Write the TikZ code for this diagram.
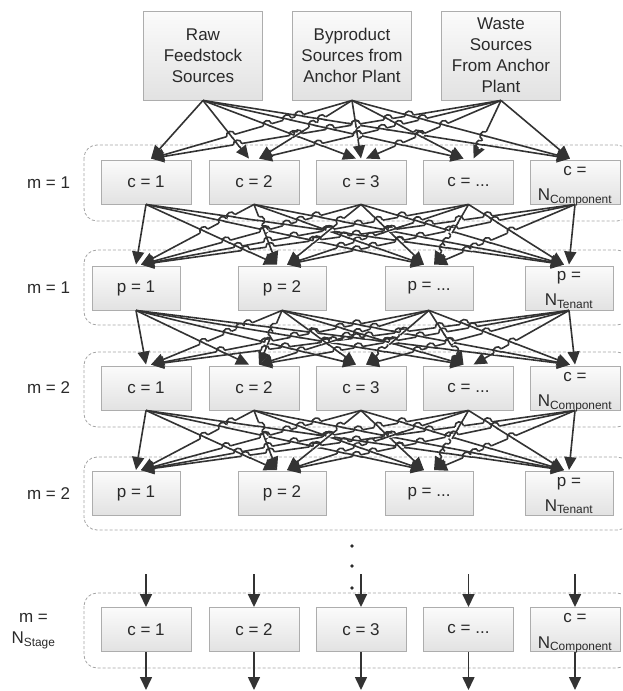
\documentclass[tikz,border=0pt]{standalone}
\usepackage{fontspec}
\setmainfont{Liberation Sans}
\usetikzlibrary{arrows.meta}

\definecolor{ink}{HTML}{333333}
\definecolor{txt}{HTML}{2A2A2A}
\definecolor{frame}{HTML}{ADADAD}
\definecolor{dashc}{HTML}{A3A3A3}
\definecolor{boxtop}{HTML}{FBFBFB}
\definecolor{boxbot}{HTML}{E2E2E2}

\newcommand\hoprad{4.3}
\newcommand\moretext{...}

\tikzset{
  cell/.style={draw=frame, line width=0.9pt, top color=boxtop, bottom color=boxbot,
    minimum height=44pt, inner sep=0pt, text=txt, align=center,
    font=\fontsize{17}{21}\selectfont},
  cellc/.style={cell, minimum width=90pt},
  cellp/.style={cell, minimum width=88pt},
  cellsrc/.style={cell, minimum width=119pt, minimum height=89pt},
  stagebox/.style={draw=dashc, line width=0.8pt, dash pattern=on 3pt off 2pt, rounded corners=13pt},
  lnk/.style={draw=ink, line width=1.6pt},
  arr/.style={lnk, -{Triangle[length=13pt,width=12pt]}},
  lbl/.style={text=txt, inner sep=0pt, font=\fontsize{17}{21}\selectfont},
}

% a row of component boxes: #1 name prefix, #2 centre height
\newcommand\comprow[2]{%
  \foreach \k/\x/\cv in {1/146/1, 2/254/2, 3/361/3, 4/468.5/\moretext}
    \node[cellc] (#1\k) at (\x,#2) {c = \cv};
  \node[cellc] (#15) at (575,#2) {};
  \node[lbl, anchor=base] (#1top) at ([yshift=-15.5pt]#15.north) {c =};
  \node[lbl, anchor=base] (#1sub) at ([yshift=-41pt]#15.north) {N\textsubscript{Component}};
}

% a row of tenant boxes: #1 name prefix, #2 centre height
\newcommand\tenantrow[2]{%
  \foreach \k/\x/\cv in {1/136/1, 2/282/2, 3/429/\moretext}
    \node[cellp] (#1\k) at (\x,#2) {p = \cv};
  \node[cellp] (#14) at (569,#2) {};
  \node[lbl, anchor=base] (#1top) at ([yshift=-15pt]#14.north) {p =};
  \node[lbl, anchor=base] (#1sub) at ([yshift=-40pt]#14.north) {N\textsubscript{Tenant}};
}

% line jump of line (#1 -> #2) over line (#3 -> #4) at fraction #5, rows #6 -> #7
\newcommand\hop[7]{%
  \pgfmathsetmacro\px{#1+(#2-#1)*#5}%
  \pgfmathsetmacro\py{#6+(#7-#6)*#5}%
  \pgfmathsetmacro\li{veclen(#2-#1,#7-#6)}%
  \pgfmathsetmacro\ux{(#2-#1)/\li}%
  \pgfmathsetmacro\uy{(#7-#6)/\li}%
  \pgfmathsetmacro\lj{veclen(#4-#3,#7-#6)}%
  \pgfmathsetmacro\vx{(#4-#3)/\lj}%
  \pgfmathsetmacro\vy{(#7-#6)/\lj}%
  \pgfmathsetmacro\sn{abs((\ux)*(\vy)-(\uy)*(\vx))}%
  \pgfmathtruncatemacro\steep{\sn>0.15}%
  \ifnum\steep=1\relax
    \pgfmathsetmacro\sg{(\ux<0)?-1:1}%
    \pgfmathsetmacro\nx{(\sg)*(\uy)}%
    \pgfmathsetmacro\ny{-1*(\sg)*(\ux)}%
    \pgfmathsetmacro\Ax{\px-\hoprad*(\ux)}%
    \pgfmathsetmacro\Ay{\py-\hoprad*(\uy)}%
    \pgfmathsetmacro\Bx{\px+\hoprad*(\ux)}%
    \pgfmathsetmacro\By{\py+\hoprad*(\uy)}%
    \pgfmathsetmacro\Cax{\Ax+1.33*\hoprad*(\nx)}%
    \pgfmathsetmacro\Cay{\Ay+1.33*\hoprad*(\ny)}%
    \pgfmathsetmacro\Cbx{\Bx+1.33*\hoprad*(\nx)}%
    \pgfmathsetmacro\Cby{\By+1.33*\hoprad*(\ny)}%
    \pgfmathsetmacro\rl{min(12,2.2/\sn+1)}%
    \pgfmathsetmacro\Rax{\px-\rl*(\vx)}%
    \pgfmathsetmacro\Ray{\py-\rl*(\vy)}%
    \pgfmathsetmacro\Rbx{\px+\rl*(\vx)}%
    \pgfmathsetmacro\Rby{\py+\rl*(\vy)}%
    \draw[white, line width=3.8pt] (\Ax,\Ay) -- (\Bx,\By);
    \draw[lnk] (\Rax,\Ray) -- (\Rbx,\Rby);
    \draw[lnk] (\Ax,\Ay) .. controls (\Cax,\Cay) and (\Cbx,\Cby) .. (\Bx,\By);
  \fi
}

% jumps for every crossing in \bandlist, rows #1 -> #2
\newcommand\hopband[2]{%
  \foreach \ai/\bi [count=\ii] in \bandlist {%
    \foreach \aj/\bj [count=\jj] in \bandlist {%
      \ifnum\jj<\ii\relax
        \pgfmathsetmacro\den{(\bi-\ai)-(\bj-\aj)}%
        \pgfmathtruncatemacro\okden{abs(\den)>0.5}%
        \ifnum\okden=1\relax
          \pgfmathsetmacro\hopt{(\aj-\ai)/(\den)}%
          \pgfmathtruncatemacro\ok{and(\hopt>0.1,\hopt<0.78)}%
          \ifnum\ok=1\relax
            \hop{\ai}{\bi}{\aj}{\bj}{\hopt}{#1}{#2}%
          \fi
        \fi
      \fi
    }%
  }%
}

% every box of one row feeds every box of the next row
% #1 source prefix, #2 index/x list, #3 target prefix, #4 index/x list,
% #5 source bottom, #6 target top
\newcommand\band[6]{%
  \gdef\bandlist{}%
  \foreach \s/\sx in {#2}{%
    \foreach \tv/\tx in {#4}{%
      \pgfmathsetmacro\off{((\sx-\tx)>20)*5-((\tx-\sx)>20)*5}%
      \draw[arr] (#1\s.south) -- ([xshift=\off pt,yshift=1pt]#3\tv.north);
      \pgfmathsetmacro\bx{\tx+\off}%
      \ifx\bandlist\empty\xdef\bandlist{\sx/\bx}\else\xdef\bandlist{\bandlist,\sx/\bx}\fi
    }%
  }%
  \pgfmathsetmacro\yend{#6-1}%
  \hopband{#5}{\yend}%
}

\begin{document}
\begin{tikzpicture}[x=1pt,y=-1pt]
\useasboundingbox (0,0) rectangle (622,691);
\clip (0,0) rectangle (622,691);

% stage frames
\foreach \yt/\yb in {145/221, 250/325, 352/427, 457/530, 593/668}
  \draw[stagebox] (84,\yt) rectangle (630,\yb);

% feedstock sources
\node[cellsrc] (src1) at (203,55.5) {Raw\\Feedstock\\Sources};
\node[cellsrc] (src2) at (352,55.5) {Byproduct\\Sources from\\Anchor Plant};
\node[cellsrc] (src3) at (501,55.5) {Waste\\Sources\\From Anchor\\Plant};

% stage rows
\comprow{ca}{182}
\tenantrow{pa}{288}
\comprow{cb}{388}
\tenantrow{pb}{493.5}
\comprow{cc}{629.5}

% stage labels
\node[lbl] (lm1) at (48.5,183) {m = 1};
\node[lbl] (lm2) at (48.5,288) {m = 1};
\node[lbl] (lm3) at (48.5,388) {m = 2};
\node[lbl] (lm4) at (48.5,493.5) {m = 2};
\node[lbl, align=center] (lm5) at (33.5,631) {m =\\N\textsubscript{Stage}};

% flows between rows
\band{src}{1/203, 2/352, 3/501}{ca}{1/146, 2/254, 3/361, 4/468.5, 5/575}{100}{160}
\band{ca}{1/146, 2/254, 3/361, 4/468.5, 5/575}{pa}{1/136, 2/282, 3/429, 4/569}{204}{266}
\band{pa}{1/136, 2/282, 3/429, 4/569}{cb}{1/146, 2/254, 3/361, 4/468.5, 5/575}{310}{366}
\band{cb}{1/146, 2/254, 3/361, 4/468.5, 5/575}{pb}{1/136, 2/282, 3/429, 4/569}{410}{471.5}

% continuation dots
\foreach \k/\y in {1/546, 2/566, 3/588}
  \fill[txt] (352,\y) circle[radius=1.8];

% last stage in and out
\foreach \k/\x in {1/146, 2/254, 3/361, 4/468.5, 5/575} {
  \coordinate (feed\k) at (\x,574);
  \coordinate (drain\k) at (\x,690);
  \draw[arr] (feed\k) -- (cc\k.north);
  \draw[arr] (cc\k.south) -- (drain\k);
}
\end{tikzpicture}
\end{document}
